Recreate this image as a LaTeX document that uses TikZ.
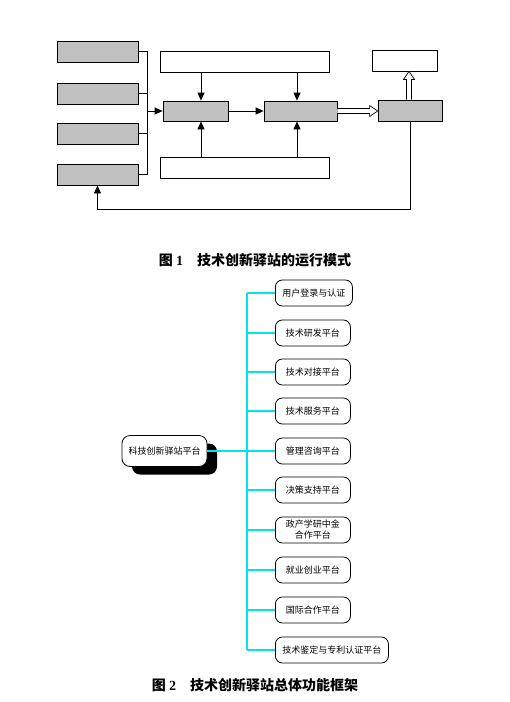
\documentclass[tikz,border=0pt]{standalone}
\usepackage{fontspec}
\setmainfont{Liberation Serif}
\newfontfamily\cjk{Noto Sans CJK SC}
\usetikzlibrary{arrows.meta,positioning,calc,shadows}
\definecolor{boxgray}{RGB}{192,192,192}
\definecolor{linkcyan}{RGB}{0,230,230}

\begin{document}
\begin{tikzpicture}[x=1pt,y=-1pt,>={Triangle[length=8pt,width=7pt]},
  gbox/.style={draw,line width=0.8pt,fill=boxgray,minimum height=21pt,inner sep=0pt},
  wbox/.style={draw,line width=0.8pt,fill=white,minimum height=21pt,inner sep=0pt},
  arr/.style={->,line width=0.8pt},
  hollow/.style={draw,line width=0.7pt,fill=white,line join=miter},
  item/.style={draw,line width=0.8pt,rounded corners=7pt,anchor=west,minimum width=75pt,
    minimum height=26pt,inner xsep=7pt,inner ysep=1pt,align=center,
    font=\cjk\fontsize{9}{11}\selectfont},
  link/.style={draw=linkcyan,line width=1.2pt},
  caption/.style={font=\cjk\bfseries\fontsize{14}{16}\selectfont}]
\useasboundingbox (0,0) rectangle (510,702);

% figure 1
\node[gbox,minimum width=81pt] (in1) at (97.5,51.5) {};
\node[gbox,minimum width=81pt] (in2) at (97.5,93.5) {};
\node[gbox,minimum width=81pt] (in3) at (97.5,133.5) {};
\node[gbox,minimum width=81pt] (in4) at (97.5,174.5) {};
\node[wbox,minimum width=169pt] (top) at (244.5,61.5) {};
\node[wbox,minimum width=169pt] (bot) at (244.5,167.5) {};
\node[gbox,minimum width=65pt,minimum height=20pt] (mid1) at (195.5,111) {};
\node[gbox,minimum width=73pt,minimum height=20pt] (mid2) at (300.5,111) {};
\node[gbox,minimum width=64pt] (out) at (410,110.5) {};
\node[wbox,minimum width=65pt] (res) at (404.5,60.5) {};
\coordinate (jn) at (147,111);
\coordinate (fb) at (97.5,209);
\coordinate (h1) at (mid2.east);
\coordinate (h2) at (out.west |- mid2.east);
\coordinate (v1) at (out.north -| 409,0);
\coordinate (v2) at (409,0 |- res.south);

\draw[line width=0.8pt] (in1.east) -| (jn);
\draw[line width=0.8pt] (in4.east) -| (jn);
\draw[line width=0.8pt] (in2.east) -- (in2.east -| jn);
\draw[line width=0.8pt] (in3.east) -- (in3.east -| jn);
\draw[arr] (jn) -- (mid1.west);
\draw[arr] (top.south -| 201,0) -- (201,0 |- mid1.north);
\draw[arr] (top.south -| 297,0) -- (297,0 |- mid2.north);
\draw[arr] (bot.north -| 201,0) -- (201,0 |- mid1.south);
\draw[arr] (bot.north -| 297,0) -- (297,0 |- mid2.south);
\draw[arr] (mid1) -- (mid2);
% hollow arrows
\draw[hollow] ($(h1)+(0,-2.5)$) -- ($(h2)+(-8,-2.5)$) -- ($(h2)+(-8,-5.5)$) -- (h2)
  -- ($(h2)+(-8,5.5)$) -- ($(h2)+(-8,2.5)$) -- ($(h1)+(0,2.5)$);
\draw[hollow] ($(v1)+(-2.5,0)$) -- ($(v2)+(-2.5,8)$) -- ($(v2)+(-5.5,8)$) -- (v2)
  -- ($(v2)+(5.5,8)$) -- ($(v2)+(2.5,8)$) -- ($(v1)+(2.5,0)$);
\draw[arr] (out.south) -- (out.south |- fb) -- (fb) -- (in4.south);

\node[caption] (cap1) at (255,260) {图 {\fontspec{Liberation Serif}1}\hspace{14pt}技术创新驿站的运行模式};

% figure 2
\node[draw,line width=0.8pt,fill=white,rounded corners=8pt,minimum width=85pt,minimum height=31pt,
  inner sep=2pt,font=\cjk\fontsize{9}{11}\selectfont,
  drop shadow={shadow xshift=10pt,shadow yshift=-8pt,fill=black,opacity=1}]
  (main) at (164.5,451) {科技创新驿站平台};

\node[item] (p1) at (275,293) {用户登录与认证};
\node[item] (p2) at (275,333) {技术研发平台};
\node[item] (p3) at (275,372) {技术对接平台};
\node[item] (p4) at (275,411) {技术服务平台};
\node[item] (p5) at (275,451) {管理咨询平台};
\node[item] (p6) at (275,490) {决策支持平台};
\node[item] (p7) at (275,530) {政产学研中金\\合作平台};
\node[item] (p8) at (275,570) {就业创业平台};
\node[item] (p9) at (275,610) {国际合作平台};
\node[item] (p10) at (275,650) {技术鉴定与专利认证平台};
\coordinate (bus) at (247,451);

\draw[link] (main.east) -- (bus);
\draw[link] (p1.west -| bus) -- (p10.west -| bus);
\foreach \i in {1,...,10}
  \draw[link] (p\i.west -| bus) -- (p\i.west);

\node[caption] (cap2) at (255,685) {图 {\fontspec{Liberation Serif}2}\hspace{14pt}技术创新驿站总体功能框架};
\end{tikzpicture}
\end{document}
